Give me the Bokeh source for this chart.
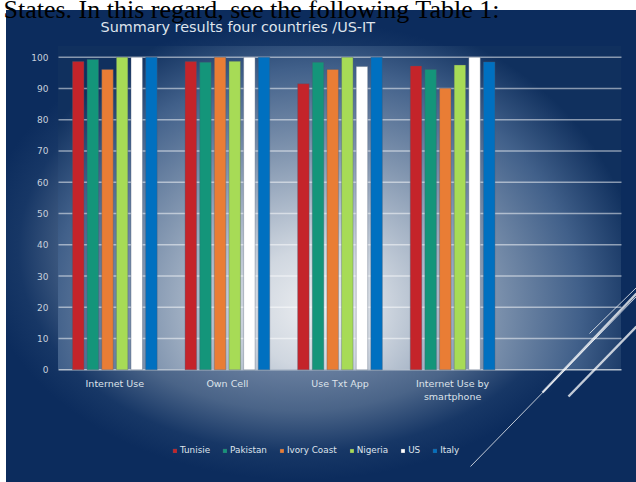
from bokeh.plotting import figure
from bokeh.models import Range1d, Legend, LegendItem, Label, Arrow, ColumnDataSource
from bokeh.core.properties import value
from bokeh.embed import file_html
from bokeh.resources import INLINE

# ---------------- data ----------------
categories = ["Internet Use", "Own Cell", "Use Txt App", "Internet Use by\nsmartphone"]
series = ["Tunisie", "Pakistan", "Ivory Coast", "Nigeria", "US", "Italy"]
tunisie = [98.6, 98.6, 91.5, 97.2]
pakistan = [99.3, 98.4, 98.4, 96.1]
ivory_coast = [96.1, 100.0, 96.1, 90.1]
nigeria = [100.0, 98.7, 100.0, 97.5]
us = [100.0, 100.0, 97.0, 100.0]
italy = [100.0, 100.0, 100.0, 98.5]
y_ticks = [0, 10, 20, 30, 40, 50, 60, 70, 80, 90, 100]
title_text = "Summary results four countries /US-IT"
caption_text = "States. In this regard, see the following Table 1:"

values = [tunisie, pakistan, ivory_coast, nigeria, us, italy]
colors = ["#c4242a", "#14957a", "#e97d35", "#a7db56", "#ffffff", "#0070c0"]

FONT = "DejaVu Sans"

# ---------------- geometry (pixels of the canvas) ----------------
W, H = 636, 482
PL, PR = 58.0, 621.0        # plot-area left/right in canvas px
Y0, Y100 = 369.3, 56.7      # canvas y of value 0 and 100
n_slots = len(categories) + 1   # the chart keeps one empty slot on the right
xs_per_px = n_slots / (PR - PL)
ys_per_px = 100.0 / (Y0 - Y100)

p = figure(width=W, height=H, output_backend="svg", toolbar_location=None,
           x_axis_type=None, y_axis_type=None,
           x_range=Range1d(-PL * xs_per_px, n_slots + (W - PR) * xs_per_px),
           y_range=Range1d(-(H - Y0) * ys_per_px, Y0 * ys_per_px),
           min_border=0, min_border_left=0, min_border_right=0,
           min_border_top=0, min_border_bottom=0)
p.background_fill_color = None
p.border_fill_color = None
p.outline_line_color = None
p.xgrid.visible = False
p.ygrid.visible = False

PT = 46
SX, SY = 6, 10   # slide top-left corner
p.styles = {
    "background-color": "#ffffff",
    "background-image": (
        "radial-gradient(330px 300px at 258px 262px, #eceef1 0%, #d0d7e0 20%, #8296b0 52%, #41608a 80%, #10305e 100%), "
        f"radial-gradient(320px 230px at {300 - SX}px {250 - SY}px, #8598b3 0%, #6a80a0 50%, #4a6488 70%, #173766 88%, #0c2c5d 100%)"
    ),
    "background-position": f"{int(PL)}px {PT}px, {SX}px {SY}px",
    "background-size": f"{int(PR - PL)}px {int(Y0) - PT}px, {W - SX}px {H - SY}px",
    "background-repeat": "no-repeat, no-repeat",
}

# gridlines
p.segment(x0=0, x1=n_slots, y0=y_ticks[1:], y1=y_ticks[1:],
          line_color="#ffffff", line_alpha=0.5, line_width=1.5)
# baseline
p.segment(x0=[0], x1=[n_slots], y0=[0], y1=[0], line_color="#b4bfcd", line_width=1.5)

# bars
n = len(series)
pitch = 0.13
centers = [i + 0.5 for i in range(len(categories))]
renderers = []
for j, (name, vals, col) in enumerate(zip(series, values, colors)):
    off = (j - (n - 1) / 2) * pitch
    src = ColumnDataSource(dict(x=[c + off for c in centers], top=vals))
    r = p.vbar(x="x", top="top", width=0.102, source=src,
               fill_color=col, line_color="#4a5a70", line_alpha=0.35, line_width=1)
    renderers.append((name, r))

# tick labels
p.text(x=[-10 * xs_per_px] * len(y_ticks), y=y_ticks, text=[str(t) for t in y_ticks],
       text_align="right", text_baseline="middle", text_color="#c8d0db",
       text_font=value(FONT), text_font_size="9px")
p.text(x=centers, y=[0] * len(centers), text=categories, y_offset=8,
       text_align="center", text_baseline="top", text_color="#dde3ea",
       text_font=value(FONT), text_font_size="9.5px", text_line_height=1.2)

legend = Legend(items=[LegendItem(label=nm, renderers=[r]) for nm, r in renderers],
                orientation="horizontal", location=(172, 27),
                glyph_width=5, glyph_height=5, label_standoff=3, spacing=12,
                padding=0, margin=0, label_height=10, label_width=0,
                background_fill_alpha=0, border_line_alpha=0,
                label_text_color="#dfe4ec", label_text_font=FONT,
                label_text_font_size="8.8px")
p.add_layout(legend)

# title and caption (screen units from canvas bottom-left)
p.add_layout(Label(x=100, y=H - 26, x_units="screen", y_units="screen", text=title_text,
                   text_font=FONT, text_font_size="14.4px", text_color="#dfe4ec",
                   text_baseline="middle"))
p.add_layout(Label(x=3, y=H - 9, x_units="screen", y_units="screen", text=caption_text,
                   text_font="Liberation Serif", text_font_size="26px", text_color="#000000",
                   text_baseline="alphabetic"))

# decorative diagonal lines of the slide design
deco = [((470, 16), (636, 186), 1.0), ((589, 149), (636, 195), 1.0),
        ((542, 90), (636, 189), 2.5), ((568, 86), (636, 156), 2.5)]
for (xs, ys), (xe, ye), lw in deco:
    p.add_layout(Arrow(end=None, x_start=xs, y_start=ys, x_end=xe, y_end=ye,
                       start_units="screen", end_units="screen",
                       line_color="#ffffff", line_alpha=0.75, line_width=lw))

open("out.html", "w").write(file_html(p, INLINE))
